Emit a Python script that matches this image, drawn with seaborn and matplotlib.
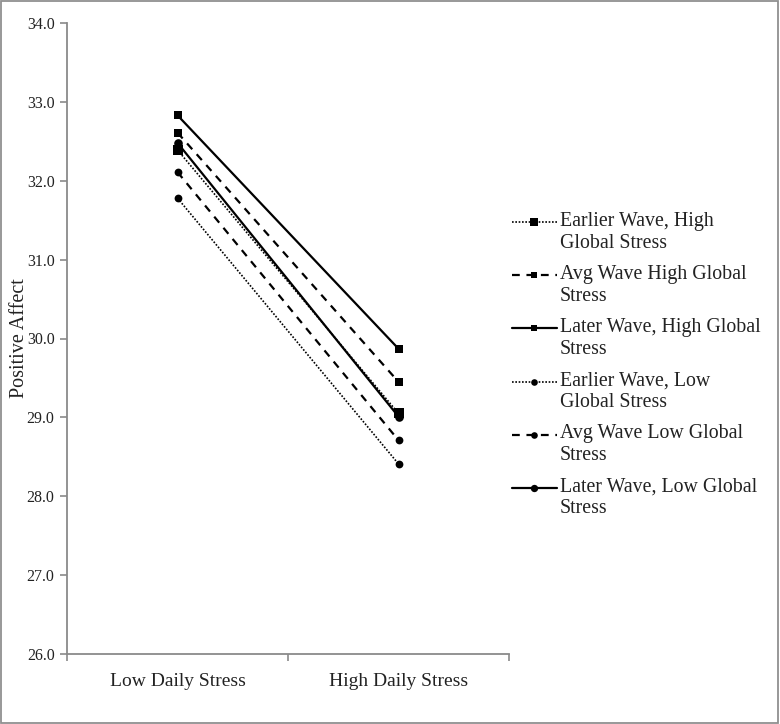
import numpy as np
import pandas as pd
import matplotlib
matplotlib.use("Agg")
import matplotlib.pyplot as plt
import matplotlib.transforms as mtransforms
from matplotlib.legend_handler import HandlerLine2D
from matplotlib.patches import Rectangle
from matplotlib.ticker import FixedLocator, NullFormatter
import seaborn as sns

# ---------------- data ----------------
categories = ["Low Daily Stress", "High Daily Stress"]
series_labels = [
    "Earlier Wave, High\nGlobal Stress",
    "Avg Wave High Global\nStress",
    "Later Wave, High Global\nStress",
    "Earlier Wave, Low\nGlobal Stress",
    "Avg Wave Low Global\nStress",
    "Later Wave, Low Global\nStress",
]
earlier_high = [32.39, 29.05]
avg_high = [32.61, 29.45]
later_high = [32.83, 29.87]
earlier_low = [31.78, 28.41]
avg_low = [32.11, 28.71]
later_low = [32.48, 29.01]
y_ticks = [26.0, 27.0, 28.0, 29.0, 30.0, 31.0, 32.0, 33.0, 34.0]
y_label = "Positive Affect"

series_values = [earlier_high, avg_high, later_high, earlier_low, avg_low, later_low]

# ---------------- styles ----------------
sns.set_style("white")
plt.rcParams["font.family"] = ["Liberation Serif", "DejaVu Serif"]

DOT = (0, (1.0, 1.0))
DASH = (0, (3.5, 3.0))
styles = [
    dict(ls=DOT, lw=1.2, marker="s", ms=7.2),
    dict(ls=DASH, lw=1.6, marker="s", ms=5.8),
    dict(ls="-", lw=1.6, marker="s", ms=5.8),
    dict(ls=DOT, lw=1.2, marker="o", ms=5.6),
    dict(ls=DASH, lw=1.6, marker="o", ms=5.6),
    dict(ls="-", lw=1.6, marker="o", ms=6.2),
]

fig = plt.figure(figsize=(7.80, 7.24), dpi=100)
ax = fig.add_axes([67 / 780, 1 - 654 / 724, 442 / 780, 631 / 724])

for lab, vals, st in zip(series_labels, series_values, styles):
    df = pd.DataFrame({"stress": categories, "value": vals})
    sns.lineplot(data=df, x="stress", y="value", ax=ax, color="black",
                 linestyle=st["ls"], linewidth=st["lw"], marker=st["marker"],
                 markersize=st["ms"], markeredgewidth=0, label=lab,
                 sort=False, legend=False)

ax.set_xlim(-0.5, 1.5)
ax.set_ylim(26, 34)
ax.set_yticks(y_ticks)
ax.set_yticklabels([f"{t:.1f}" for t in y_ticks])
ax.set_xticks([0, 1])
ax.set_xticklabels(categories)
ax.xaxis.set_minor_locator(FixedLocator([-0.5, 0.5, 1.5]))
ax.xaxis.set_minor_formatter(NullFormatter())
ax.tick_params(axis="x", which="major", length=0, pad=14, labelsize=14, colors="#222222")
ax.tick_params(axis="x", which="minor", length=5, width=1.2, color="#8a8a8a", bottom=True)
ax.tick_params(axis="y", which="major", length=5, width=1.2, color="#8a8a8a", left=True,
               labelsize=11.5, labelcolor="#222222", pad=4)
ax.set_xlabel("")
ax.set_ylabel(y_label, fontsize=14.5, color="#222222")
ax.yaxis.set_label_coords(-0.086, 0.5)

for s in ["top", "right"]:
    ax.spines[s].set_visible(False)
for s in ["left", "bottom"]:
    ax.spines[s].set_color("#8a8a8a")
    ax.spines[s].set_linewidth(1.3)


class UpHandler(HandlerLine2D):
    def __init__(self, shift, **kw):
        super().__init__(**kw)
        self.shift = shift

    def create_artists(self, legend, orig_handle, xdescent, ydescent, width, height,
                       fontsize, trans):
        arts = super().create_artists(legend, orig_handle, xdescent, ydescent, width,
                                      height, fontsize, trans)
        t2 = mtransforms.Affine2D().translate(0, self.shift) + trans
        for a in arts:
            a.set_transform(t2)
        return arts


handles = ax.get_lines()
hmap = {h: UpHandler(7.4) for h in handles}
leg = fig.legend(handles, series_labels, loc="upper left",
                 bbox_to_anchor=(512 / 780, 1 - 212 / 724), frameon=False,
                 fontsize=14.3, handlelength=2.25, handletextpad=0.15,
                 labelspacing=0.62, borderpad=0, borderaxespad=0,
                 markerscale=0.85, handler_map=hmap)
for t in leg.get_texts():
    t.set_linespacing(1.2)
    t.set_color("#222222")

fig.patches.append(Rectangle((0.0015, 0.002), 0.996, 0.996, transform=fig.transFigure,
                             fill=False, edgecolor="#909090", linewidth=1.3))

fig.savefig("out.png", dpi=100)
